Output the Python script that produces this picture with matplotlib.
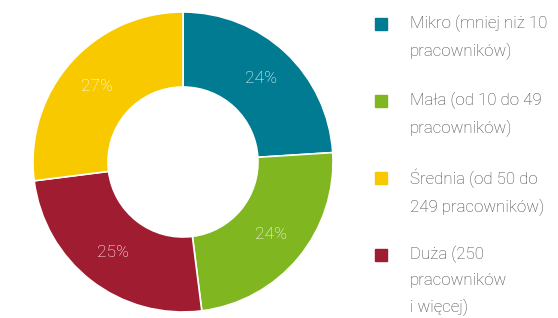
import matplotlib.pyplot as plt

# dane
kategorie = ['Mikro (mniej niż 10\npracowników)',
             'Mała (od 10 do 49\npracowników)',
             'Średnia (od 50 do\n249 pracowników)',
             'Duża (250\npracowników\ni więcej)']
kolory = ['#007B91', '#80B61F', '#F9C900', '#A01C30']
udzialy = [24, 24, 27, 25]

# kolejnosc na wykresie (zgodnie z ruchem wskazowek): Mikro, Mała, Duża, Średnia
kolejnosc = [0, 1, 3, 2]

plt.rcParams['font.family'] = ['Roboto', 'DejaVu Sans']

fig = plt.figure(figsize=(5.58, 3.18), dpi=100)
ax = fig.add_axes([33 / 558, 6 / 318, 300 / 558, 300 / 318])

wedges, teksty, autoteksty = ax.pie(
    [udzialy[i] for i in kolejnosc],
    colors=[kolory[i] for i in kolejnosc],
    startangle=90, counterclock=False,
    radius=1.0, pctdistance=0.76,
    autopct=lambda p: '%d%%' % round(p),
    wedgeprops=dict(width=0.5, edgecolor='white', linewidth=1.2),
    textprops=dict(color='white', fontsize=12.5, fontweight='light'))
ax.set_xlim(-1, 1)
ax.set_ylim(-1, 1)
ax.set_aspect('equal')

# legenda
y0 = 318 - 24
krok = 77
for i, (nazwa, kolor) in enumerate(zip(kategorie, kolory)):
    y = y0 - i * krok
    fig.patches.append(plt.Rectangle((375 / 558, (y - 6) / 318), 12 / 558, 12 / 318,
                                     transform=fig.transFigure, color=kolor))
    fig.text(410 / 558, (y + 9) / 318, nazwa, fontsize=12.2, color='#444444',
             fontweight='light', va='top', ha='left', linespacing=1.82)

fig.savefig('out.png', dpi=100)
